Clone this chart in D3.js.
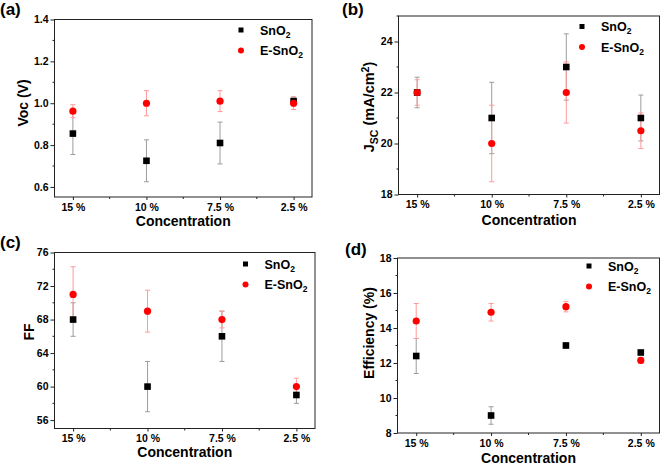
<!DOCTYPE html>
<html><head><meta charset="utf-8">
<script src="https://cdn.jsdelivr.net/npm/d3@7"></script>
<style>
html,body{margin:0;padding:0;background:#fff;}
svg text{font-family:"Liberation Sans",Arial,sans-serif;font-weight:bold;fill:#000;}
</style></head>
<body>
<svg id="c" width="661" height="465"></svg>
<script>
const categories = ["15 %", "10 %", "7.5 %", "2.5 %"];
const seriesNames = ["SnO2", "E-SnO2"];

// (a) Voc (V)
const vocSnO2 = [0.855, 0.725, 0.81, 1.01];
const vocSnO2Err = [0.10, 0.10, 0.10, 0.02];
const vocESnO2 = [0.962, 1.0, 1.01, 1.0];
const vocESnO2Err = [0.031, 0.06, 0.05, 0.03];
const vocTicks = [0.6, 0.8, 1.0, 1.2, 1.4];

// (b) Jsc (mA/cm2)
const jscSnO2 = [22.0, 21.0, 23.0, 21.0];
const jscSnO2Err = [0.6, 1.4, 1.3, 0.9];
const jscESnO2 = [22.0, 20.0, 22.0, 20.5];
const jscESnO2Err = [0.5, 1.5, 1.2, 0.7];
const jscTicks = [18, 20, 22, 24];

// (c) FF
const ffSnO2 = [68, 60, 66, 59];
const ffSnO2Err = [2, 3, 3, 1];
const ffESnO2 = [71, 69, 68, 60];
const ffESnO2Err = [3.3, 2.5, 1, 1];
const ffTicks = [56, 60, 64, 68, 72, 76];

// (d) Efficiency (%)
const effSnO2 = [12.4, 9.0, 13.0, 12.6];
const effSnO2Err = [1.0, 0.5, 0.15, 0.1];
const effESnO2 = [14.4, 14.9, 15.22, 12.15];
const effESnO2Err = [1.0, 0.5, 0.3, 0.15];
const effTicks = [8, 10, 12, 14, 16, 18];

const panels = [
  {tag:"(a)", tagX:0, tagY:15, box:[54.5,19.5,312,197], yDom:[0.552,1.4], ticks:vocTicks, fmt:d3.format(".1f"),
   a:vocSnO2, ae:vocSnO2Err, b:vocESnO2, be:vocESnO2Err, ylab:"voc", ylx:28, yly:103, legX:241, legY:30, xlabY:226},
  {tag:"(b)", tagX:342, tagY:15, box:[398.5,16,659.5,194.5], yDom:[18,25], ticks:jscTicks, fmt:d3.format("d"),
   a:jscSnO2, ae:jscSnO2Err, b:jscESnO2, be:jscESnO2Err, ylab:"jsc", ylx:374, yly:107, legX:582, legY:26.5, xlabY:225},
  {tag:"(c)", tagX:0, tagY:248, box:[54.5,252.5,315,428.5], yDom:[55,76], ticks:ffTicks, fmt:d3.format("d"),
   a:ffSnO2, ae:ffSnO2Err, b:ffESnO2, be:ffESnO2Err, ylab:"ff", ylx:34, yly:332, legX:245.5, legY:264, xlabY:457},
  {tag:"(d)", tagX:345, tagY:255, box:[397.5,258,659.5,433], yDom:[8,18], ticks:effTicks, fmt:d3.format("d"),
   a:effSnO2, ae:effSnO2Err, b:effESnO2, be:effESnO2Err, ylab:"eff", ylx:374, yly:333, legX:589, legY:266, xlabY:463}
];

const svg = d3.select("#c");

panels.forEach(p => {
  const [L,T,R,B] = p.box;
  const g = svg.append("g");
  const x = d3.scaleLinear().domain([-0.25, 3.25]).range([L, R]);
  const y = d3.scaleLinear().domain(p.yDom).range([B, T]);

  // frame
  g.append("rect").attr("x",L).attr("y",T).attr("width",R-L).attr("height",B-T)
    .attr("fill","none").attr("stroke","#222").attr("stroke-width",1);

  // minor ticks
  const step = p.ticks[1]-p.ticks[0];
  const minorY = [];
  for (let v = p.ticks[0]-step/2; v <= p.yDom[1]+1e-9; v += step) if (v >= p.yDom[0]-1e-9) minorY.push(v);
  g.selectAll(".my").data(minorY).enter().append("line")
    .attr("x1",L-2).attr("x2",L).attr("y1",d=>y(d)).attr("y2",d=>y(d)).attr("stroke","#222");
  g.selectAll(".mx").data([0.5,1.5,2.5]).enter().append("line")
    .attr("x1",d=>x(d)).attr("x2",d=>x(d)).attr("y1",B).attr("y2",B+2).attr("stroke","#222");

  // y axis
  const ya = g.append("g").attr("transform",`translate(${L},0)`)
    .call(d3.axisLeft(y).tickValues(p.ticks).tickFormat(p.fmt).tickSize(4).tickPadding(2));
  ya.select(".domain").remove();
  ya.selectAll("line").attr("stroke","#222");
  ya.selectAll("text").style("font-size","10.5px").attr("fill","#000");

  // x axis
  const xa = g.append("g").attr("transform",`translate(0,${B})`)
    .call(d3.axisBottom(x).tickValues([0,1,2,3]).tickFormat(i=>categories[i]).tickSize(3).tickPadding(3.5));
  xa.select(".domain").remove();
  xa.selectAll("line").attr("stroke","#222");
  xa.selectAll("text").style("font-size","10.5px").attr("fill","#000");

  // x label
  g.append("text").attr("x",(L+R)/2).attr("y",p.xlabY).attr("text-anchor","middle")
    .style("font-size","14px").text("Concentration");

  // y label
  const yl = g.append("text").attr("transform",`translate(${p.ylx},${p.yly}) rotate(-90)`)
    .attr("text-anchor","middle").style("font-size","14px");
  if (p.ylab==="voc") yl.text("Voc (V)");
  else if (p.ylab==="ff") yl.text("FF");
  else if (p.ylab==="eff") yl.text("Efficiency (%)");
  else {
    yl.style("font-size","14.5px");
    yl.append("tspan").text("J");
    yl.append("tspan").attr("dy",3.5).style("font-size","10.5px").text("SC");
    yl.append("tspan").attr("dy",-3.5).text(" (mA/cm");
    yl.append("tspan").attr("dy",-5.5).style("font-size","10.5px").text("2");
    yl.append("tspan").attr("dy",5.5).text(")");
  }

  // panel tag
  g.append("text").attr("x",p.tagX).attr("y",p.tagY).style("font-size","17px").text(p.tag);

  // error bars + markers
  const series = [
    {v:p.a, e:p.ae, ec:"#9c9c9c", c:"#000", shape:"sq"},
    {v:p.b, e:p.be, ec:"#ff9a9a", c:"#ff0000", shape:"ci"}
  ];
  series.forEach(s => {
    const eg = g.append("g");
    s.v.forEach((v,i) => {
      const cx = x(i), y1 = y(v - s.e[i]), y2 = y(v + s.e[i]);
      eg.append("line").attr("x1",cx).attr("x2",cx).attr("y1",y1).attr("y2",y2).attr("stroke",s.ec).attr("stroke-width",1);
      [y1,y2].forEach(yy => eg.append("line").attr("x1",cx-2.5).attr("x2",cx+2.5).attr("y1",yy).attr("y2",yy).attr("stroke",s.ec).attr("stroke-width",1));
    });
  });
  series.forEach(s => {
    s.v.forEach((v,i) => {
      if (s.shape==="sq") g.append("rect").attr("x",x(i)-3.3).attr("y",y(v)-3.3).attr("width",6.6).attr("height",6.6).attr("fill",s.c);
      else g.append("circle").attr("cx",x(i)).attr("cy",y(v)).attr("r",3.6).attr("fill",s.c);
    });
  });

  // legend
  const lg = g.append("g");
  lg.append("rect").attr("x",p.legX-2.5).attr("y",p.legY-2.5).attr("width",5).attr("height",5).attr("fill","#000");
  lg.append("circle").attr("cx",p.legX).attr("cy",p.legY+20.5).attr("r",3).attr("fill","#ff0000");
  seriesNames.forEach((nm,k) => {
    const t = lg.append("text").attr("x",p.legX+19).attr("y",p.legY+4.5+k*20.5).style("font-size","12.5px");
    t.append("tspan").text(nm.slice(0,-1));
    t.append("tspan").attr("dy",3).style("font-size","8.5px").text("2");
  });
});
</script>
</body></html>
